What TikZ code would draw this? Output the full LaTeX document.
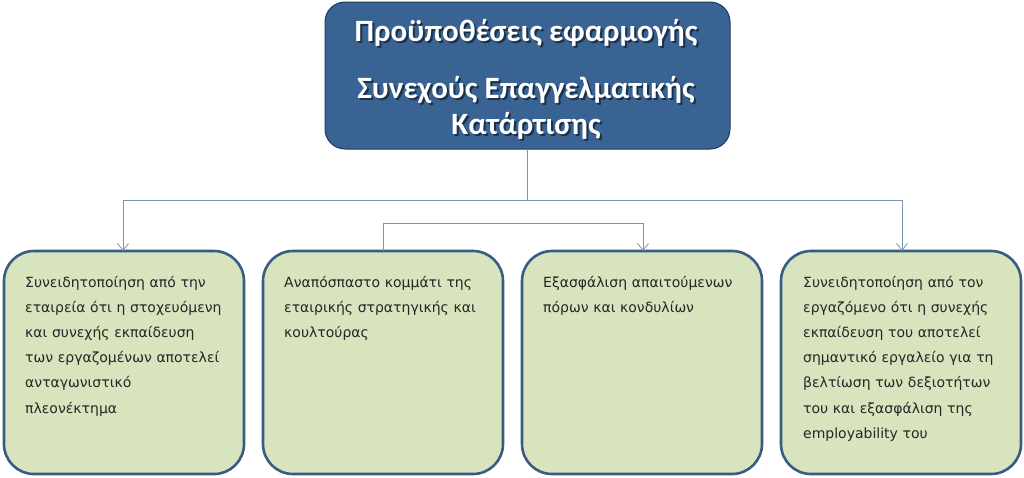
\documentclass[tikz,border=0pt]{standalone}
\usepackage{fontspec}
\setmainfont{DejaVu Sans}
\newfontfamily\titlefont{Carlito}
\usetikzlibrary{arrows.meta}
\definecolor{topfill}{HTML}{386393}
\definecolor{topdraw}{HTML}{1F3A5C}
\definecolor{boxfill}{HTML}{D7E4BD}
\definecolor{boxdraw}{HTML}{3A5C84}
\definecolor{linkcol}{HTML}{7A93B2}
\tikzset{
  topbox/.style={draw=topdraw, line width=1pt, fill=topfill, rounded corners=20pt},
  greenbox/.style={draw=boxdraw, line width=2.6pt, fill=boxfill, rounded corners=30pt},
  bodytext/.style={anchor=base west, inner sep=0pt, text width=225pt, align=left, font=\fontsize{14}{25.2}\selectfont, text=black!85},
  link/.style={draw=linkcol, line width=0.9pt},
  arrowlink/.style={link, -{Straight Barb[length=7pt, width=11pt, line width=0.8pt]}},
  titletext/.style={anchor=base, inner sep=0pt, text=white, font=\titlefont\bfseries\fontsize{31}{36}\selectfont},
  titleshadow/.style={titletext, text=black, opacity=0.5}
}
\begin{document}
\begin{tikzpicture}[x=1pt,y=-1pt]
\useasboundingbox[fill=white] (0,0) rectangle (1024,477);
% top box
\path[topbox] (325,2) rectangle (730,149);
\coordinate (topbot) at (527,149);
\node[titleshadow] at (528,43) {Προϋποθέσεις εφαρμογής};
\node[titletext] (t1) at (526,41) {Προϋποθέσεις εφαρμογής};
\node[titleshadow] at (528,100) {Συνεχούς Επαγγελματικής};
\node[titletext] (t2) at (526,98) {Συνεχούς Επαγγελματικής};
\node[titleshadow] at (528,136) {Κατάρτισης};
\node[titletext] (t3) at (526,134) {Κατάρτισης};
% green boxes
\path[greenbox] (4,251) rectangle (244,474);
\path[greenbox] (263,251) rectangle (503,474);
\path[greenbox] (522,251) rectangle (762,474);
\path[greenbox] (781,251) rectangle (1021,474);
\coordinate (b1) at (123,251);
\coordinate (b2) at (383,251);
\coordinate (b3) at (643,251);
\coordinate (b4) at (902,251);
% connectors
\draw[link] (topbot) -- (527,200);
\draw[arrowlink] (527,200) -| (b1);
\draw[arrowlink] (527,200) -| (b4);
\draw[arrowlink] (b2) |- (643,223) -- (b3);
% texts
\node[bodytext] (x1) at (25,287) {Συνειδητοποίηση από την\\εταιρεία ότι η στοχευόμενη\\και συνεχής εκπαίδευση\\των εργαζομένων αποτελεί\\ανταγωνιστικό\\πλεονέκτημα};
\node[bodytext] (x2) at (284,287) {Αναπόσπαστο κομμάτι της\\εταιρικής στρατηγικής και\\κουλτούρας};
\node[bodytext] (x3) at (543,287) {Εξασφάλιση απαιτούμενων\\πόρων και κονδυλίων};
\node[bodytext] (x4) at (803,287) {Συνειδητοποίηση από τον\\εργαζόμενο ότι η συνεχής\\εκπαίδευση του αποτελεί\\σημαντικό εργαλείο για τη\\βελτίωση των δεξιοτήτων\\του και εξασφάλιση της\\employability του};
\end{tikzpicture}
\end{document}
